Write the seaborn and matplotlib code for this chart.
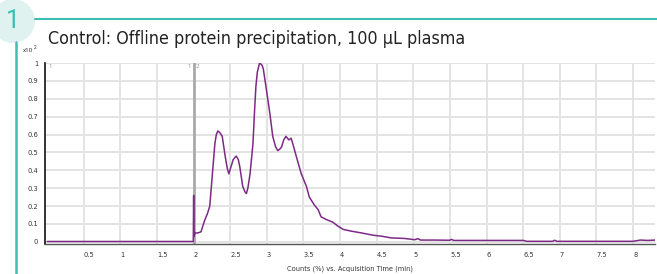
import matplotlib
matplotlib.use("Agg")
import matplotlib.pyplot as plt
import seaborn as sns
import pandas as pd
from matplotlib.patches import Circle
from matplotlib.lines import Line2D
from matplotlib import font_manager

# ---- data ----
time_min = [0.0, 1.0, 1.995, 2.0, 2.004, 2.02, 2.06, 2.10, 2.15, 2.19, 2.22, 2.26,
            2.29, 2.31, 2.33, 2.36, 2.39, 2.43, 2.46, 2.48, 2.51, 2.54, 2.58, 2.61,
            2.63, 2.67, 2.70, 2.72, 2.74, 2.77, 2.81, 2.83, 2.85, 2.87, 2.90, 2.93,
            2.95, 2.99, 3.04, 3.08, 3.12, 3.15, 3.18, 3.20, 3.23, 3.26, 3.30, 3.33,
            3.36, 3.40, 3.47, 3.54, 3.58, 3.65, 3.70, 3.74, 3.81, 3.90, 3.97, 4.04,
            4.15, 4.29, 4.45, 4.56, 4.70, 4.88, 5.02, 5.06, 5.10, 5.30, 5.50, 5.52,
            5.55, 6.00, 6.50, 6.55, 6.90, 6.93, 6.96, 7.50, 8.00, 8.10, 8.20, 8.30]
counts = [0.002, 0.002, 0.002, 0.26, 0.03, 0.05, 0.05, 0.056, 0.12, 0.16, 0.20, 0.40,
          0.55, 0.60, 0.62, 0.61, 0.59, 0.48, 0.41, 0.38, 0.42, 0.46, 0.48, 0.46,
          0.42, 0.31, 0.28, 0.27, 0.30, 0.38, 0.55, 0.72, 0.87, 0.95, 1.00, 0.99,
          0.97, 0.86, 0.72, 0.59, 0.53, 0.51, 0.52, 0.53, 0.57, 0.59, 0.57, 0.58,
          0.54, 0.48, 0.38, 0.31, 0.25, 0.205, 0.18, 0.14, 0.125, 0.11, 0.088, 0.07,
          0.06, 0.05, 0.037, 0.032, 0.022, 0.019, 0.012, 0.018, 0.01, 0.01, 0.009, 0.014,
          0.008, 0.008, 0.008, 0.003, 0.003, 0.009, 0.003, 0.003, 0.003, 0.01, 0.008, 0.01]
x_ticks = [0.5, 1, 1.5, 2, 2.5, 3, 3.5, 4, 4.5, 5, 5.5, 6, 6.5, 7, 7.5, 8]
x_tick_labels = ["0.5", "1", "1.5", "2", "2.5", "3", "3.5", "4", "4.5", "5",
                 "5.5", "6", "6.5", "7", "7.5", "8"]
y_ticks = [0, 0.1, 0.2, 0.3, 0.4, 0.5, 0.6, 0.7, 0.8, 0.9, 1]
y_tick_labels = ["0", "0.1", "0.2", "0.3", "0.4", "0.5", "0.6", "0.7", "0.8", "0.9", "1"]
marker_time = 2.0
title = "Control: Offline protein precipitation, 100 µL plasma"
x_label = "Counts (%) vs. Acquisition Time (min)"
panel_number = "1"

df = pd.DataFrame({"time": time_min, "counts": counts})

sns.set_style("white")
plt.rcParams["font.family"] = ["Roboto", "DejaVu Sans"]

# look for an installed condensed face
cond_path = None
for f in font_manager.fontManager.ttflist:
    if ("Condensed" in f.name or "Narrow" in f.name or f.stretch in ("condensed", "semi-condensed", 400)) and "Mono" not in f.name and f.style == "normal" and f.weight in (400, "normal"):
        cond_path = f.fname
        break
if cond_path is None:
    for f in font_manager.fontManager.ttflist:
        if "Condensed" in f.fname and "Mono" not in f.fname and "Bold" not in f.fname and "Oblique" not in f.fname:
            cond_path = f.fname
            break
if cond_path:
    title_font = font_manager.FontProperties(fname=cond_path, size=12.8)
    small_font = font_manager.FontProperties(fname=cond_path, size=5.3)
else:
    title_font = font_manager.FontProperties(family="Roboto", size=11.5)
    small_font = font_manager.FontProperties(family="Roboto", size=5.0)

W, H = 657, 274
fig = plt.figure(figsize=(W / 100, H / 100), dpi=100)
ax = fig.add_axes([45 / W, 1 - 244 / H, (655 - 45) / W, (244 - 63) / H])

ax.set_xlim(-0.03, 8.3)
ax.set_ylim(-0.012, 1.0)
ax.set_xticks(x_ticks)
ax.set_yticks(y_ticks)
ax.grid(True, color="#e3e3e3", linewidth=1.4)
ax.set_axisbelow(True)

ax.axvline(marker_time, color="#aaaaaa", linewidth=2, zorder=2)
sns.lineplot(data=df, x="time", y="counts", ax=ax, color="#7d2a86",
             linewidth=1.1, zorder=3, estimator=None, sort=False)

ax.set_xticklabels(x_tick_labels, ha="left", fontproperties=small_font)
ax.set_yticklabels(y_tick_labels, fontproperties=small_font)
ax.tick_params(axis="both", colors="#333333", length=3, width=0.8,
               pad=2, direction="out")
ax.tick_params(axis="x", pad=3)
ax.set_xlabel(x_label, color="#333333", labelpad=5, fontproperties=small_font)
ax.set_ylabel("")
for s in ["top", "right"]:
    ax.spines[s].set_visible(False)
ax.spines["left"].set_color("#111111")
ax.spines["left"].set_linewidth(1.2)
ax.spines["bottom"].set_color("#555555")
ax.spines["bottom"].set_linewidth(1.0)

# marker labels at top
ax.text(0.02, 0.995, "1", fontsize=4.5, color="#999999", ha="left", va="top")
ax.text(marker_time - 0.03, 0.995, "1", fontsize=4.5, color="#999999", ha="right", va="top")
ax.text(marker_time + 0.03, 0.995, "2", fontsize=4.5, color="#999999", ha="left", va="top")

# y multiplier
fig.text(23 / W, 1 - 50 / H, "x10", fontsize=4.5, color="#333333", va="center")
fig.text(34 / W, 1 - 47 / H, "2", fontsize=3.5, color="#333333", va="center")

# title
fig.text(48 / W, 1 - 39 / H, title, color="#222222", va="center",
         ha="left", fontproperties=title_font)

# teal decoration
teal = "#3cbfb3"
fig.add_artist(Line2D([35 / W, 1.0], [1 - 19 / H, 1 - 19 / H], color=teal,
                      linewidth=1.5, transform=fig.transFigure))
fig.add_artist(Line2D([16 / W, 16 / W], [1 - 42 / H, 0.0], color=teal,
                      linewidth=1.8, transform=fig.transFigure))
circ = Circle((13, H - 21), 22, transform=None, facecolor="#dff2f0",
              edgecolor="none", zorder=1)
fig.add_artist(circ)
fig.text(13 / W, 1 - 21 / H, panel_number, fontsize=18, color=teal,
         ha="center", va="center", family="Roboto", fontweight="normal")

fig.savefig("out.png", dpi=100)
